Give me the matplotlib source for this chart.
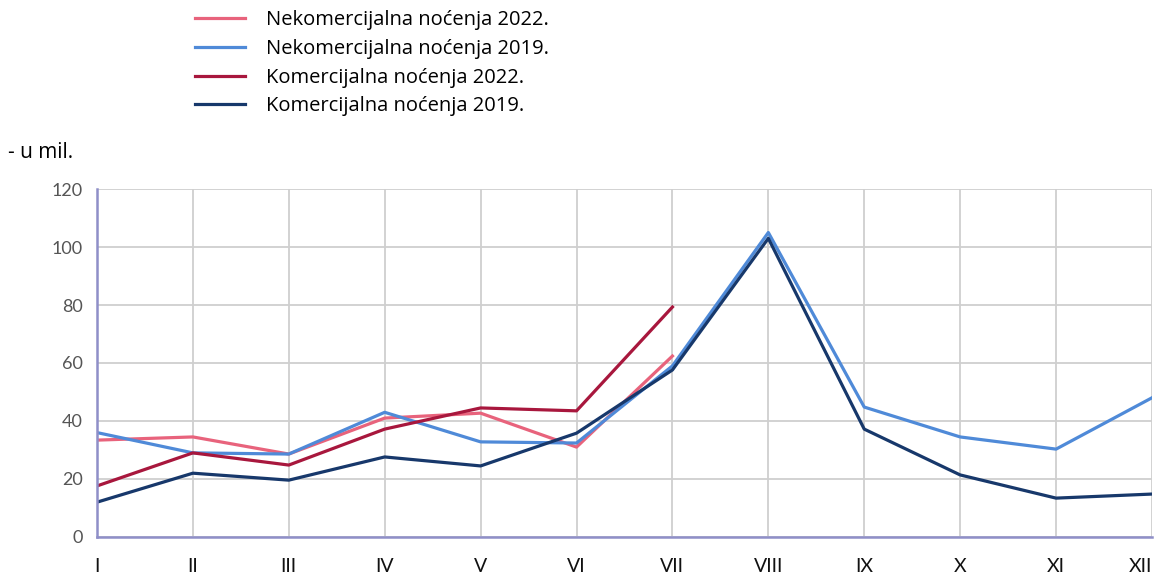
import matplotlib.pyplot as plt

months = ['I', 'II', 'III', 'IV', 'V', 'VI', 'VII', 'VIII', 'IX', 'X', 'XI', 'XII']
y_ticks = [0, 20, 40, 60, 80, 100, 120]

# mil. nocenja per month
nekom_2022 = [33.4, 34.5, 28.6, 41, 42.7, 31, 62.4]
nekom_2019 = [36, 29, 28.6, 43, 32.8, 32.4, 59, 105, 44.8, 34.5, 30.3, 48]
kom_2022 = [17.6, 29, 24.8, 37.2, 44.5, 43.5, 79.3]
kom_2019 = [12, 22, 19.6, 27.6, 24.5, 35.8, 57.6, 103, 37.2, 21.4, 13.4, 14.8]

series = [
    ('Nekomercijalna noćenja 2022.', nekom_2022, '#e8637c'),
    ('Nekomercijalna noćenja 2019.', nekom_2019, '#4f8ad8'),
    ('Komercijalna noćenja 2022.', kom_2022, '#a8173d'),
    ('Komercijalna noćenja 2019.', kom_2019, '#17386b'),
]

plt.rcParams['font.family'] = ['Lato', 'DejaVu Sans']

fig = plt.figure(figsize=(11.56, 5.74), dpi=100)
ax = fig.add_axes([0.0839, 0.0645, 0.9126, 0.6062])

handles = []
for label, vals, color in series:
    line, = ax.plot(range(len(vals)), vals, color=color, linewidth=2.3, label=label)
    handles.append(line)

ax.set_xlim(0, len(months) - 1)
ax.set_ylim(0, 120)
ax.set_xticks(range(len(months)))
ax.set_xticklabels(months, fontsize=14, color='#111111')
ax.get_xticklabels()[-1].set_horizontalalignment('right')
ax.set_yticks(y_ticks)
ax.set_yticklabels([str(t) for t in y_ticks], fontsize=13, color='#555555')
ax.tick_params(axis='both', length=0)
ax.tick_params(axis='x', pad=15)
ax.tick_params(axis='y', pad=10)
ax.grid(True, color='#cfcfcf', linewidth=1.3)
ax.set_axisbelow(True)
for s in ['top', 'right']:
    ax.spines[s].set_visible(False)
for s in ['left', 'bottom']:
    ax.spines[s].set_color('#8f8fc8')
    ax.spines[s].set_linewidth(1.8)

fig.legend(handles=handles, loc='upper left', bbox_to_anchor=(0.1687, 0.982),
           frameon=False, prop={'family': 'Open Sans', 'size': 14.5},
           handlelength=2.5, handletextpad=1.0,
           labelspacing=0.43, borderpad=0, borderaxespad=0)

fig.text(8 / 1156, 1 - 152 / 574, '- u mil.', fontsize=15, family='Open Sans',
         va='center', ha='left')

fig.savefig('out.png', dpi=100)
